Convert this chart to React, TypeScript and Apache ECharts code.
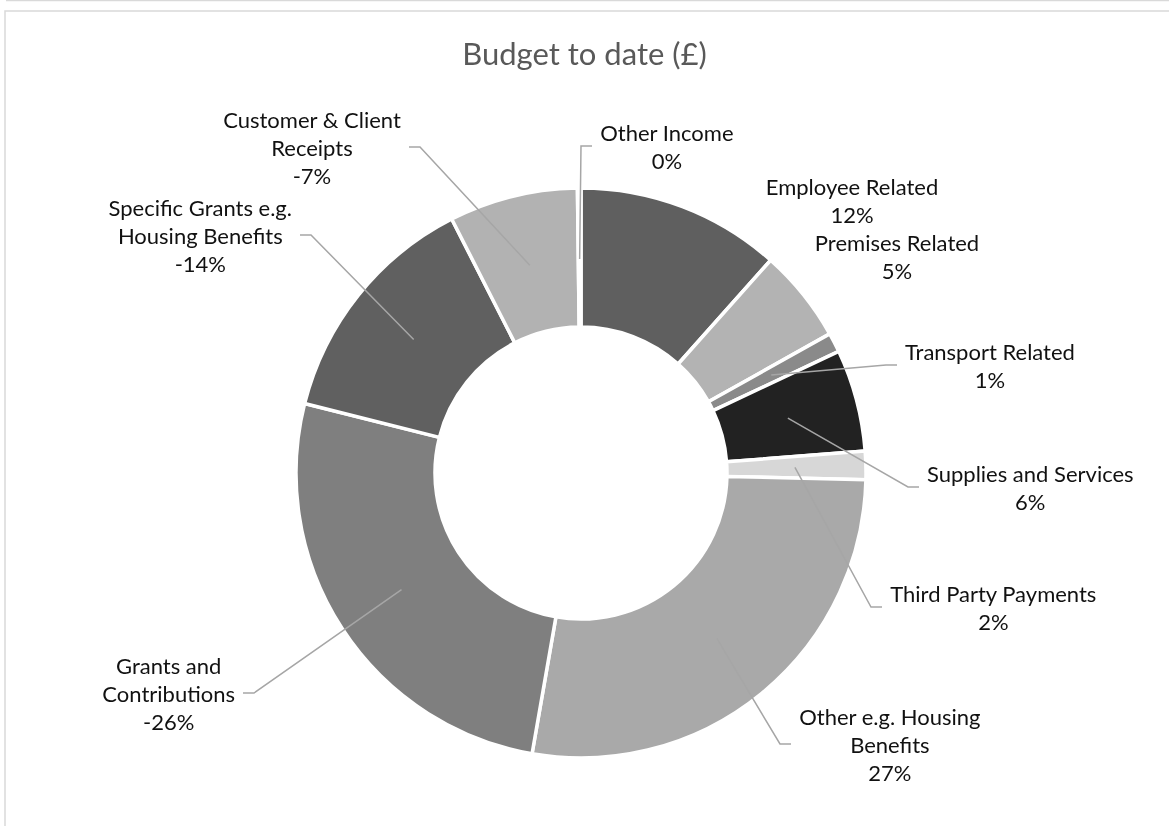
import React, { useEffect, useRef } from "react";
import * as echarts from "echarts";

const TITLE = "Budget to date (£)";

const CATEGORIES = [
  "Employee Related",
  "Premises Related",
  "Transport Related",
  "Supplies and Services",
  "Third Party Payments",
  "Other e.g. Housing Benefits",
  "Grants and Contributions",
  "Specific Grants e.g. Housing Benefits",
  "Customer & Client Receipts",
  "Other Income",
];

// how each category name is wrapped in its data label
const LABEL_LINES = [
  ["Employee Related"],
  ["Premises Related"],
  ["Transport Related"],
  ["Supplies and Services"],
  ["Third Party Payments"],
  ["Other e.g. Housing", "Benefits"],
  ["Grants and", "Contributions"],
  ["Specific Grants e.g.", "Housing Benefits"],
  ["Customer & Client", "Receipts"],
  ["Other Income"],
];

// signed share of budget (%)
const SHARES = [11.6, 5.3, 1.1, 5.8, 1.6, 27.4, -26.2, -13.6, -7.3, -0.2];

const COLORS = [
  "#5f5f5f",
  "#b3b3b3",
  "#8a8a8a",
  "#222222",
  "#d7d7d7",
  "#a9a9a9",
  "#7f7f7f",
  "#606060",
  "#b2b2b2",
  "#dcdcdc",
];

const SHOW_LEADER = [false, false, true, true, true, true, true, true, true, true];

// label placement (layout only): [align, x, y]
const LABEL_POS: [string, number, number][] = [
  ["center", 852, 200],
  ["center", 897, 256],
  ["left", 897, 365],
  ["left", 919, 487],
  ["left", 882, 607],
  ["left", 791, 744],
  ["right", 243, 693],
  ["right", 300, 235],
  ["right", 409, 147],
  ["left", 592, 146],
];

const FONT = "Lato, 'Open Sans', sans-serif";

export default function App() {
  const ref = useRef<HTMLDivElement>(null);

  useEffect(() => {
    if (!ref.current) return;
    const chart = echarts.init(ref.current, null, { renderer: "svg" });
    const totalAbs = SHARES.reduce((s, v) => s + Math.abs(v), 0);

    const ringData = CATEGORIES.map((name, i) => ({
      name,
      value: Math.abs(SHARES[i]),
      itemStyle: { color: COLORS[i] },
    }));

    const labelData = CATEGORIES.map((name, i) => ({
      name,
      value: Math.abs(SHARES[i]),
      labelLine: { show: SHOW_LEADER[i] },
      label: { padding: i === 9 ? [0, 200, 0, 8] : [0, 8] },
    }));

    chart.setOption({
      animation: false,
      title: {
        text: TITLE,
        left: "center",
        top: 32,
        textStyle: {
          fontFamily: FONT,
          fontSize: 31,
          fontWeight: "normal",
          color: "#595959",
        },
      },
      graphic: [
        {
          type: "rect",
          silent: true,
          shape: { x: 5, y: 11, width: 1300, height: 1000 },
          style: { fill: "none", stroke: "#d9d9d9", lineWidth: 1.5 },
        },
        {
          type: "line",
          silent: true,
          shape: { x1: 6, y1: 0.5, x2: 1169, y2: 0.5 },
          style: { stroke: "#d9d9d9", lineWidth: 1.5 },
        },
      ],
      series: [
        {
          type: "pie",
          name: "ring",
          z: 2,
          center: [581, 473],
          radius: [146, 285],
          startAngle: 90,
          clockwise: true,
          silent: true,
          avoidLabelOverlap: false,
          label: { show: false },
          labelLine: { show: false },
          itemStyle: { borderColor: "#ffffff", borderWidth: 3.5 },
          emphasis: { disabled: true },
          data: ringData,
        },
        {
          type: "pie",
          name: "labels",
          z: 5,
          center: [581, 473],
          radius: [0, 214],
          startAngle: 90,
          clockwise: true,
          silent: true,
          avoidLabelOverlap: false,
          itemStyle: { color: "rgba(0,0,0,0)", borderWidth: 0 },
          emphasis: { disabled: true },
          label: {
            show: true,
            position: "outside",
            color: "#111111",
            backgroundColor: "rgba(0,0,0,0)",
            formatter: (p: any) => {
              const i = p.dataIndex;
              const pct = Math.round((SHARES[i] / totalAbs) * 100);
              const lines = LABEL_LINES[i].concat([`${pct}%`]);
              return lines.map((l) => `{t|${l}}`).join("\n");
            },
            rich: {
              t: {
                fontFamily: FONT,
                fontSize: 22,
                lineHeight: 28,
                color: "#111111",
                align: "center",
              },
            },
          },
          labelLine: {
            show: true,
            showAbove: true,
            length: 20,
            length2: 11,
            smooth: false,
            lineStyle: { color: "#a6a6a6", width: 1.5 },
          },
          labelLayout: (params: any) => {
            const pos = LABEL_POS[params.dataIndex];
            return {
              x: pos[1],
              y: pos[2],
              align: pos[0],
              verticalAlign: "middle",
            };
          },
          data: labelData,
        },
      ],
    });

    return () => chart.dispose();
  }, []);

  return (
    <div
      ref={ref}
      style={{ position: "fixed", left: 0, top: 0, width: 1169, height: 826 }}
    />
  );
}
